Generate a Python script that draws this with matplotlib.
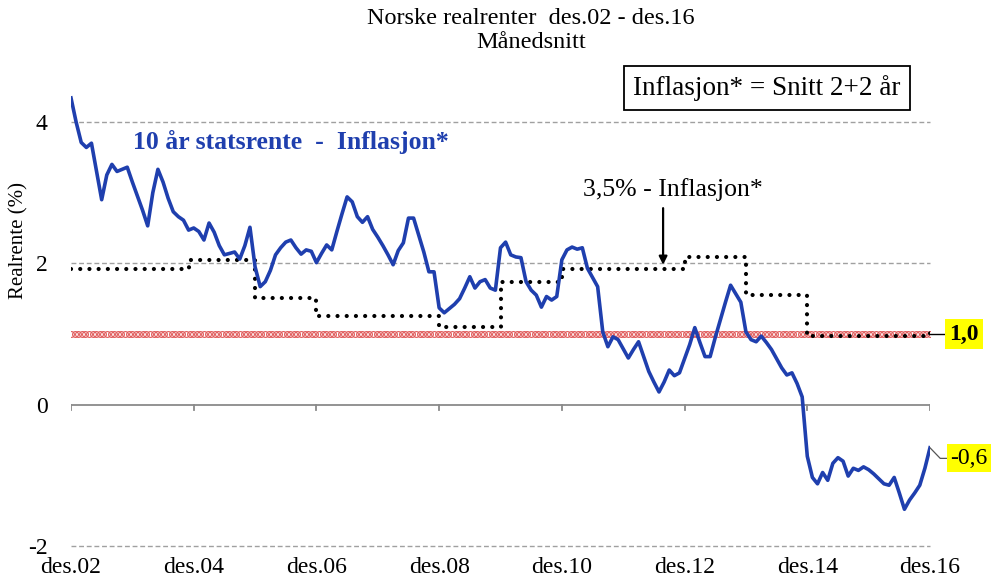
import numpy as np
import matplotlib
matplotlib.use("Agg")
import matplotlib.pyplot as plt

plt.rcParams['font.family'] = ['Liberation Serif', 'DejaVu Serif']

# ---------------- data ----------------
tick_labels = ["des.02", "des.04", "des.06", "des.08", "des.10", "des.12", "des.14", "des.16"]
tick_months = [0, 24, 48, 72, 96, 120, 144, 168]

# 10 år statsrente - Inflasjon* (monthly, des.02 .. des.16)
real_rate_10y = [
    4.34, 4.00, 3.71, 3.64, 3.70, 3.30, 2.90, 3.25, 3.40, 3.30,
    3.33, 3.36, 3.15, 2.95, 2.75, 2.53, 3.00, 3.33, 3.15, 2.92,
    2.73, 2.66, 2.61, 2.47, 2.50, 2.45, 2.33, 2.57, 2.44, 2.25,
    2.12, 2.14, 2.16, 2.06, 2.25, 2.51, 1.95, 1.67, 1.74, 1.90,
    2.12, 2.22, 2.30, 2.33, 2.22, 2.13, 2.19, 2.17, 2.01, 2.14,
    2.26, 2.19, 2.45, 2.70, 2.94, 2.87, 2.66, 2.58, 2.66, 2.48,
    2.37, 2.25, 2.12, 1.98, 2.18, 2.29, 2.64, 2.64, 2.40, 2.16,
    1.88, 1.88, 1.37, 1.30, 1.36, 1.42, 1.50, 1.65, 1.81, 1.65,
    1.74, 1.77, 1.65, 1.62, 2.22, 2.30, 2.12, 2.09, 2.08, 1.74,
    1.62, 1.55, 1.38, 1.53, 1.48, 1.53, 2.05, 2.19, 2.23, 2.20,
    2.22, 1.93, 1.80, 1.67, 1.03, 0.82, 0.96, 0.92, 0.79, 0.66,
    0.78, 0.89, 0.68, 0.47, 0.32, 0.18, 0.32, 0.49, 0.41, 0.45,
    0.65, 0.85, 1.09, 0.88, 0.68, 0.68, 0.95, 1.20, 1.45, 1.69,
    1.57, 1.45, 1.03, 0.92, 0.89, 0.97, 0.88, 0.78, 0.65, 0.52,
    0.42, 0.45, 0.30, 0.11, -0.73, -1.03, -1.12, -0.96, -1.07, -0.83,
    -0.75, -0.80, -1.01, -0.90, -0.93, -0.88, -0.92, -0.98, -1.05, -1.12,
    -1.14, -1.03, -1.25, -1.48, -1.35, -1.25, -1.14, -0.90, -0.61,
]

# 3,5% - Inflasjon* : step levels and the month each level starts
gap_start_month = [0, 23, 36, 48, 72, 84, 96, 120, 132, 144, 168]
gap_level = [1.92, 2.05, 1.51, 1.26, 1.10, 1.73, 1.92, 2.09, 1.55, 0.97, 1.08]

reference_level = 1.0
grid_levels = [4, 2, -2]
y_ticks = [-2, 0, 2, 4]

# ---------------- figure ----------------
W, H = 995, 581
fig = plt.figure(figsize=(W / 100, H / 100), dpi=100)
L, R = 71, 930
ymin, ymax = -2.0, 4.5
y_bot_px = 546
ppu = 70.67
y_top_px = y_bot_px - (ymax - ymin) * ppu
ax = fig.add_axes([L / W, (H - y_bot_px) / H, (R - L) / W, (y_bot_px - y_top_px) / H])
ax.set_xlim(0, 168)
ax.set_ylim(ymin, ymax)
for s in ax.spines.values():
    s.set_visible(False)

months = np.arange(len(real_rate_10y))

# dashed grid lines
for g in grid_levels:
    ax.plot([0, 168], [g, g], color='#a0a0a0', lw=1.0, ls=(0, (3.5, 2)), clip_on=False, zorder=1)

# zero line with ticks
ax.plot([0, 168], [0, 0], color='#8a8a8a', lw=1.3, zorder=1)
for m in tick_months:
    ax.plot([m, m], [0, -0.08], color='#8a8a8a', lw=1.3, zorder=1)

# reference line 1,0 (red hollow circles)
ref_x = np.linspace(0, 168, 240)
ax.plot(ref_x, np.full_like(ref_x, reference_level), ls='none', marker='o', ms=4.2,
        mfc='none', mec='#e05a5a', mew=0.8, zorder=2)

# 3,5% - inflasjon (dotted steps)
ax.plot(gap_start_month, gap_level, drawstyle='steps-post', color='black', lw=3.0,
        ls=(0, (0.01, 2.2)), dash_capstyle='round', zorder=3)

# blue line
ax.plot(months, real_rate_10y, color='#1f3fae', lw=2.6, zorder=4, solid_joinstyle='round')

# ticks
ax.set_xticks(tick_months, tick_labels)
ax.set_yticks(y_ticks, [str(v) for v in y_ticks])
ax.tick_params(axis='x', length=0, pad=8, labelsize=17)
ax.tick_params(axis='y', length=0, pad=17, labelsize=17)
ax.set_ylabel("Realrente (%)", fontsize=15)
ax.yaxis.set_label_coords(-0.050, 0.665)

# value labels at right
ax.plot([168, 171.5], [reference_level, reference_level], color='black', lw=1.0, clip_on=False)
ax.text(174.6, reference_level, "1,0", fontsize=17, fontweight='bold', ha='center', va='center',
        bbox=dict(boxstyle='square,pad=0.18', fc='#ffff00', ec='none'), clip_on=False)
last = real_rate_10y[-1]
ax.plot([168, 170, 171.8], [last, last - 0.15, last - 0.15], color='#555555', lw=0.9, clip_on=False)
ax.text(175.6, last - 0.15, "-0,6", fontsize=17, ha='center', va='center',
        bbox=dict(boxstyle='square,pad=0.15', fc='#ffff00', ec='none'), clip_on=False)

# annotations
ax.text(12.2, (405 - 142) / ppu, "10 år statsrente  -  Inflasjon*", fontsize=18.5,
        fontweight='bold', color='#1f3fae', ha='left', va='center')
ax.text(100.2, (405 - 190) / ppu, "3,5% - Inflasjon*", fontsize=18.5, ha='left', va='center')
ax.annotate("", xy=(115.8, 1.94), xytext=(115.8, 2.82),
            arrowprops=dict(arrowstyle='-|>', color='black', lw=1.6, mutation_scale=12))

# title
fig.text(531 / W, 1 - 18 / H, "Norske realrenter  des.02 - des.16", fontsize=17.5, ha='center', va='center')
fig.text(531 / W, 1 - 43 / H, "Månedsnitt", fontsize=17.5, ha='center', va='center')

# boxed note
fig.text(767 / W, 1 - 88 / H, "Inflasjon* = Snitt 2+2 år", fontsize=19.5, ha='center', va='center',
         bbox=dict(boxstyle='square,pad=0.33', fc='white', ec='black', lw=1.3))

fig.savefig("out.png", dpi=100)
